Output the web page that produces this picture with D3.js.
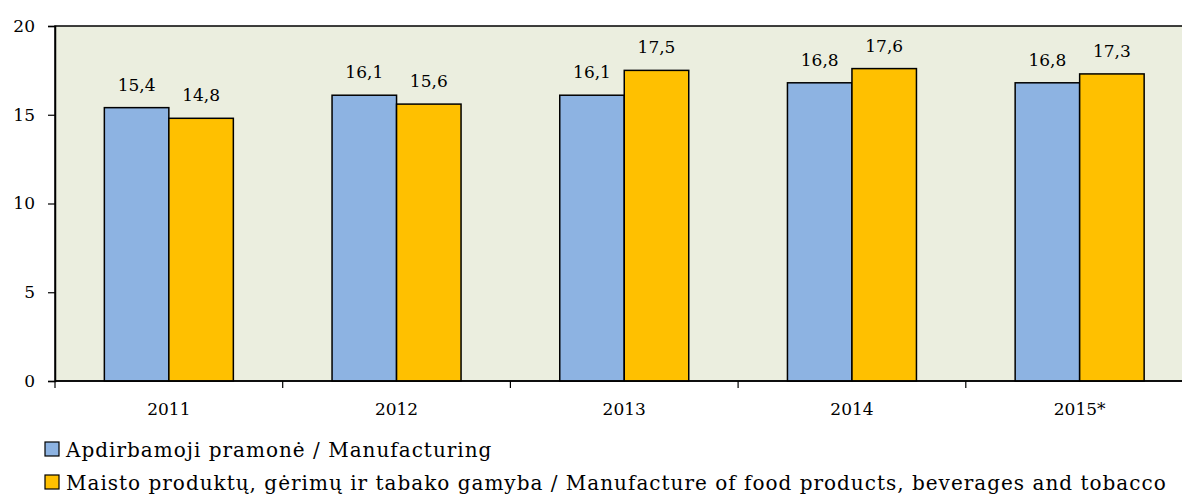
<!DOCTYPE html>
<html>
<head>
<meta charset="utf-8">
<script src="https://cdn.jsdelivr.net/npm/d3@7"></script>
<style>
  body { margin: 0; background: #fff; }
  svg { display: block; font-family: "DejaVu Serif", serif; }
</style>
</head>
<body>
<div class="chart"></div>
<script>
var years = ["2011", "2012", "2013", "2014", "2015*"];
var manufacturing = [15.4, 16.1, 16.1, 16.8, 16.8];
var foodBeverages = [14.8, 15.6, 17.5, 17.6, 17.3];
var yTicks = [0, 5, 10, 15, 20];
var seriesNames = [
  "Apdirbamoji pramonė / Manufacturing",
  "Maisto produktų, gėrimų ir tabako gamyba / Manufacture of food products, beverages and tobacco"
];
var seriesColors = ["#8DB3E2", "#FFC000"];

var svgWidth = 1182;
var svgHeight = 494;

var margin = { top: 26, left: 55 };
var plotRight = 1193.5;
var plotBottom = 381;

var svg = d3.select(".chart")
  .append("svg")
  .attr("width", svgWidth)
  .attr("height", svgHeight);

// scales
var xScale = d3.scaleBand()
  .domain(years)
  .range([margin.left, plotRight])
  .paddingInner(0)
  .paddingOuter(0);

var yScale = d3.scaleLinear()
  .domain([0, 20])
  .range([plotBottom, margin.top]);

// plot background
svg.append("rect")
  .attr("x", margin.left)
  .attr("y", margin.top)
  .attr("width", plotRight - margin.left)
  .attr("height", plotBottom - margin.top)
  .attr("fill", "#EBEEDF")
  .attr("stroke", "#000")
  .attr("stroke-width", 1.5);

// bars
var barW = 64.5;
var rows = years.map(function(y, i) {
  return [
    { year: y, value: manufacturing[i], s: 0 },
    { year: y, value: foodBeverages[i], s: 1 }
  ];
});
var data = [].concat.apply([], rows);

var groups = svg.append("g");
groups.selectAll("rect")
  .data(data)
  .enter()
  .append("rect")
    .attr("x", d => xScale(d.year) + xScale.bandwidth() / 2 - barW + d.s * barW)
    .attr("y", d => yScale(d.value))
    .attr("width", barW)
    .attr("height", d => yScale(0) - yScale(d.value))
    .attr("fill", d => seriesColors[d.s])
    .attr("stroke", "#000")
    .attr("stroke-width", 1.5);

// value labels
groups.selectAll("text")
  .data(data)
  .enter()
  .append("text")
    .attr("x", d => xScale(d.year) + xScale.bandwidth() / 2 - barW / 2 + d.s * barW)
    .attr("y", d => yScale(d.value) - 17)
    .attr("text-anchor", "middle")
    .attr("font-size", "17px")
    .attr("fill", "#000")
    .text(d => d3.format(".1f")(d.value).replace(".", ","));

// y axis
var leftAxis = d3.axisLeft(yScale)
  .tickValues(yTicks)
  .tickSize(7)
  .tickPadding(13)
  .tickFormat(d3.format("d"));

var yAxis = svg.append("g")
  .attr("transform", `translate(${margin.left}, 0)`)
  .call(leftAxis);
yAxis.select(".domain").attr("stroke-width", 1.5);
yAxis.selectAll(".tick line").attr("stroke-width", 1.2);
yAxis.selectAll("text")
  .attr("font-size", "17px")
  .attr("font-family", "DejaVu Serif")
  .attr("fill", "#000");

// x axis
var xAxisG = svg.append("g")
  .attr("transform", `translate(0, ${plotBottom})`);
xAxisG.append("line")
  .attr("x1", margin.left)
  .attr("x2", plotRight)
  .attr("stroke", "#000")
  .attr("stroke-width", 1.5);
xAxisG.selectAll(".sep")
  .data(years)
  .enter()
  .append("line")
    .attr("class", "sep")
    .attr("x1", d => xScale(d))
    .attr("x2", d => xScale(d))
    .attr("y1", 0)
    .attr("y2", 7)
    .attr("stroke", "#000")
    .attr("stroke-width", 1.2);
xAxisG.selectAll("text")
  .data(years)
  .enter()
  .append("text")
    .attr("x", d => xScale(d) + xScale.bandwidth() / 2)
    .attr("y", 34)
    .attr("text-anchor", "middle")
    .attr("font-size", "17px")
    .attr("fill", "#000")
    .text(d => d);

// legend
var legend = svg.append("g");
var legendItems = legend.selectAll("g")
  .data(seriesNames)
  .enter()
  .append("g")
    .attr("transform", (d, i) => `translate(45, ${442 + i * 33})`);
legendItems.append("rect")
  .attr("width", 14)
  .attr("height", 14)
  .attr("fill", (d, i) => seriesColors[i])
  .attr("stroke", "#000")
  .attr("stroke-width", 1.2);
legendItems.append("text")
  .attr("x", 21)
  .attr("y", 15)
  .attr("font-size", "20px")
  .attr("letter-spacing", "1px")
  .attr("fill", "#000")
  .text(d => d);
</script>
</body>
</html>
